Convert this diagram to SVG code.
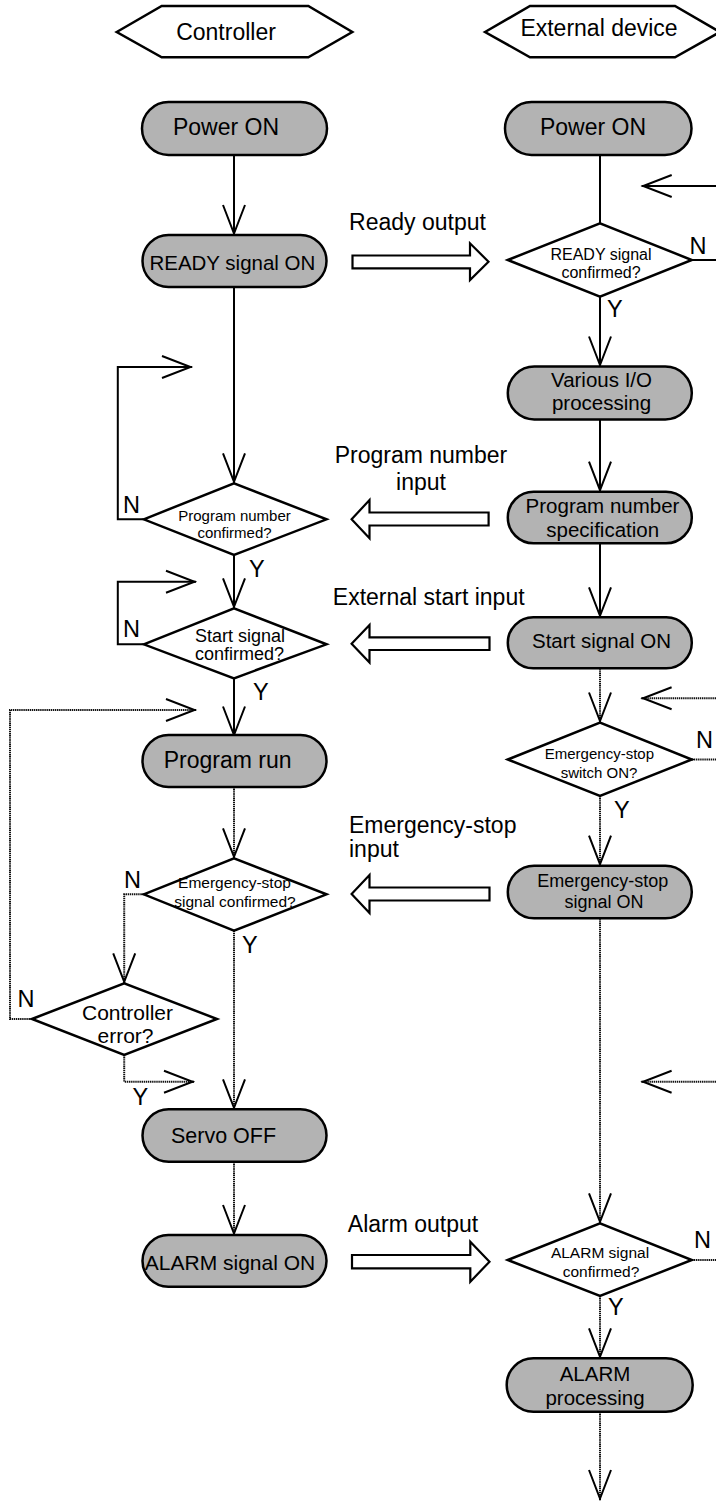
<svg xmlns="http://www.w3.org/2000/svg" width="716" height="1501" viewBox="0 0 716 1501">
<style>
text{font-family:"Liberation Sans",Arial,sans-serif;fill:#000}
.box{fill:#b3b3b3;stroke:#000;stroke-width:2.5}
.dia{fill:#fff;stroke:#000;stroke-width:2.5;stroke-linejoin:miter}
.hex{fill:#fff;stroke:#000;stroke-width:2.5}
.ln{fill:none;stroke:#000;stroke-width:2}
.dt{fill:none;stroke:#111;stroke-width:2;stroke-dasharray:1.4 0.7}
.hol{fill:#fff;stroke:#000;stroke-width:2.2;stroke-linejoin:miter}
.lbl{font-size:23px}
.yn{font-size:23.5px}
.c{text-anchor:middle}
</style>
<defs>
<marker id="ah" viewBox="-32 -13 34 26" refX="0" refY="0" markerWidth="34" markerHeight="26" markerUnits="userSpaceOnUse" orient="auto">
<path d="M-30,-11 L-1.5,0 L-30,11" fill="none" stroke="#000" stroke-width="2"/>
</marker>
</defs>
<rect width="716" height="1501" fill="#fff"/>

<!-- headers -->
<g id="hdr-controller">
<polygon class="hex" points="116.7,32 161.7,6 308.3,6 352.3,32 308.3,57.3 161.7,57.3"/>
<text class="lbl c" x="226" y="40">Controller</text>
</g>
<g id="hdr-external">
<polygon class="hex" points="485,32 530,6 675,6 720,32 675,57.3 530,57.3"/>
<text class="lbl c" x="599" y="36">External device</text>
</g>

<!-- connectors -->
<g id="connectors">
<!-- left solid -->
<path class="ln" d="M234,155 V235" marker-end="url(#ah)"/>
<path class="ln" d="M234,287 V483.3" marker-end="url(#ah)"/>
<path class="ln" d="M143.8,519.3 H117.8 V367 H192" marker-end="url(#ah)"/>
<path class="ln" d="M234,555 V608.3" marker-end="url(#ah)"/>
<path class="ln" d="M143.8,644.3 H117.8 V581.7 H196" marker-end="url(#ah)"/>
<path class="ln" d="M234,678.3 V736.5" marker-end="url(#ah)"/>
<!-- left dotted -->
<path class="dt" d="M234,787 V858.3"/>
<path class="ln" d="M234,857 V858.3" marker-end="url(#ah)"/>
<path class="dt" d="M143.8,894.3 H124.2 V983.3"/>
<path class="ln" d="M124.2,982 V983.3" marker-end="url(#ah)"/>
<path class="dt" d="M32,1019 H10 V710 H196"/>
<path class="ln" d="M194.7,710 H196" marker-end="url(#ah)"/>
<path class="dt" d="M124.2,1055 V1081.7 H194"/>
<path class="ln" d="M192.7,1081.7 H194" marker-end="url(#ah)"/>
<path class="dt" d="M234,930.7 V1109.3"/>
<path class="ln" d="M234,1108 V1109.3" marker-end="url(#ah)"/>
<path class="dt" d="M234,1162 V1235"/>
<path class="ln" d="M234,1233.7 V1235" marker-end="url(#ah)"/>
<!-- right solid -->
<path class="ln" d="M600,155 V223.3"/>
<path class="ln" d="M716,186 H641.7" marker-end="url(#ah)"/>
<path class="ln" d="M691.8,260 H716"/>
<path class="ln" d="M600,296.7 V366.5" marker-end="url(#ah)"/>
<path class="ln" d="M600,419.5 V491.7" marker-end="url(#ah)"/>
<path class="ln" d="M600,543.3 V617.3" marker-end="url(#ah)"/>
<!-- right dotted -->
<path class="dt" d="M600,668.3 V722.5"/>
<path class="ln" d="M600,721.2 V722.5" marker-end="url(#ah)"/>
<path class="dt" d="M716,698.3 H641.6"/>
<path class="ln" d="M642.9,698.3 H641.6" marker-end="url(#ah)"/>
<path class="dt" d="M691.8,759.5 H716"/>
<path class="dt" d="M600,796 V865.7"/>
<path class="ln" d="M600,864.4 V865.7" marker-end="url(#ah)"/>
<path class="dt" d="M600,918.3 V1223.3"/>
<path class="ln" d="M600,1222 V1223.3" marker-end="url(#ah)"/>
<path class="dt" d="M716,1081.7 H641.6"/>
<path class="ln" d="M642.9,1081.7 H641.6" marker-end="url(#ah)"/>
<path class="dt" d="M691.8,1260 H716"/>
<path class="dt" d="M600,1296 V1358.3"/>
<path class="ln" d="M600,1357 V1358.3" marker-end="url(#ah)"/>
<path class="dt" d="M600,1412 V1500"/>
<path class="ln" d="M600,1498.7 V1500" marker-end="url(#ah)"/>
<!-- hollow signal arrows -->
<polygon class="hol" points="352.5,255.5 470,255.5 470,243.3 488.5,261.7 470,280 470,268.3 352.5,268.3"/>
<polygon class="hol" points="488.6,512.5 369.5,512.5 369.5,500 351.6,519.3 369.5,538.3 369.5,525.5 488.6,525.5"/>
<polygon class="hol" points="489.5,637.3 369.5,637.3 369.5,625 351.6,643.7 369.5,662.5 369.5,650 489.5,650"/>
<polygon class="hol" points="489.5,887.5 369.5,887.5 369.5,875 351.6,894 369.5,913 369.5,900.5 489.5,900.5"/>
<polygon class="hol" points="352,1255 470.3,1255 470.3,1241.7 489.5,1261.7 470.3,1281.7 470.3,1268.3 352,1268.3"/>
</g>

<!-- connector labels -->
<g id="labels">
<text class="lbl c" x="417.5" y="230">Ready output</text>
<text class="lbl c" x="421" y="463.3">Program number</text>
<text class="lbl c" x="421" y="490">input</text>
<text class="lbl c" x="428.7" y="605">External start input</text>
<text class="lbl" x="349" y="833">Emergency-stop</text>
<text class="lbl" x="349" y="857">input</text>
<text class="lbl c" x="413" y="1231.7">Alarm output</text>
<text class="yn" x="689.5" y="254">N</text>
<text class="yn" x="607" y="316.7">Y</text>
<text class="yn" x="123" y="513.3">N</text>
<text class="yn" x="249" y="576.7">Y</text>
<text class="yn" x="123" y="636.7">N</text>
<text class="yn" x="253" y="700">Y</text>
<text class="yn" x="696" y="748.3">N</text>
<text class="yn" x="614" y="818.3">Y</text>
<text class="yn" x="124" y="888.3">N</text>
<text class="yn" x="242" y="953.3">Y</text>
<text class="yn" x="17.4" y="1006.7">N</text>
<text class="yn" x="132.4" y="1105">Y</text>
<text class="yn" x="694" y="1248.3">N</text>
<text class="yn" x="608" y="1315">Y</text>
</g>

<!-- controller column -->
<g id="c-power">
<rect class="box" x="142" y="102" width="185" height="53" rx="26.5"/>
<text class="c" x="226" y="135" font-size="23">Power ON</text>
</g>
<g id="c-ready">
<rect class="box" x="142.5" y="235" width="184" height="52" rx="26"/>
<text class="c" x="232.4" y="270" font-size="20.5">READY signal ON</text>
</g>
<g id="c-prog-conf">
<polygon class="dia" points="143.8,519.3 234,483.3 326.5,519.3 234,555"/>
<text class="c" x="234.5" y="521" font-size="15">Program number</text>
<text class="c" x="234.5" y="538.3" font-size="15">confirmed?</text>
</g>
<g id="c-start-conf">
<polygon class="dia" points="143.8,644.3 234,608.3 326.5,644.3 234,678.3"/>
<text class="c" x="240" y="641.7" font-size="18">Start signal</text>
<text class="c" x="239.5" y="660" font-size="18">confirmed?</text>
</g>
<g id="c-run">
<rect class="box" x="142.5" y="735" width="184" height="52" rx="26"/>
<text class="c" x="227.7" y="768.3" font-size="23">Program run</text>
</g>
<g id="c-estop-conf">
<polygon class="dia" points="143.8,894.3 234,858.3 326.5,894.3 234,930.7"/>
<text class="c" x="234.5" y="888.3" font-size="15.5">Emergency-stop</text>
<text class="c" x="235" y="906.7" font-size="15.5">signal confirmed?</text>
</g>
<g id="c-error">
<polygon class="dia" points="32,1019 124.2,983.3 217,1019 124.2,1055"/>
<text class="c" x="127.5" y="1020" font-size="21">Controller</text>
<text class="c" x="125.5" y="1043.3" font-size="21">error?</text>
</g>
<g id="c-servo">
<rect class="box" x="142.5" y="1109.3" width="184" height="52.4" rx="26.2"/>
<text class="c" x="223.5" y="1143.3" font-size="21.5">Servo OFF</text>
</g>
<g id="c-alarm">
<rect class="box" x="142.5" y="1235" width="184" height="51.7" rx="25.8"/>
<text class="c" x="230" y="1270" font-size="21">ALARM signal ON</text>
</g>

<!-- external device column -->
<g id="e-power">
<rect class="box" x="505" y="102" width="186.5" height="53" rx="26.5"/>
<text class="c" x="593" y="135" font-size="23">Power ON</text>
</g>
<g id="e-ready-conf">
<polygon class="dia" points="507.8,260 600,223.3 691.8,260 600,296.7"/>
<text class="c" x="601" y="260" font-size="16">READY signal</text>
<text class="c" x="601" y="278" font-size="16">confirmed?</text>
</g>
<g id="e-io">
<rect class="box" x="507.8" y="366.5" width="184" height="53" rx="26.5"/>
<text class="c" x="601.5" y="386.7" font-size="20.5">Various I/O</text>
<text class="c" x="601.5" y="410" font-size="20.5">processing</text>
</g>
<g id="e-prog-spec">
<rect class="box" x="507.8" y="491.7" width="184" height="51.6" rx="25.8"/>
<text class="c" x="602.5" y="513.3" font-size="20.5">Program number</text>
<text class="c" x="602.7" y="536.7" font-size="20.5">specification</text>
</g>
<g id="e-start">
<rect class="box" x="507.8" y="617.3" width="184" height="51" rx="25.5"/>
<text class="c" x="601.5" y="648.3" font-size="20.5">Start signal ON</text>
</g>
<g id="e-estop-sw">
<polygon class="dia" points="507.8,759.5 600,722.5 691.8,759.5 600,796"/>
<text class="c" x="599.4" y="759.3" font-size="15">Emergency-stop</text>
<text class="c" x="599" y="778.3" font-size="15">switch ON?</text>
</g>
<g id="e-estop-on">
<rect class="box" x="507.8" y="865.7" width="184" height="52.6" rx="26.3"/>
<text class="c" x="602.7" y="886.7" font-size="18">Emergency-stop</text>
<text class="c" x="604" y="908.3" font-size="18">signal ON</text>
</g>
<g id="e-alarm-conf">
<polygon class="dia" points="507.8,1260 600,1223.3 691.8,1260 600,1296"/>
<text class="c" x="600" y="1258.3" font-size="15.5">ALARM signal</text>
<text class="c" x="601" y="1276.7" font-size="15.5">confirmed?</text>
</g>
<g id="e-alarm-proc">
<rect class="box" x="506.7" y="1358.3" width="186" height="53.4" rx="26.7"/>
<text class="c" x="595" y="1380.7" font-size="20.5">ALARM</text>
<text class="c" x="595" y="1405" font-size="20.5">processing</text>
</g>
</svg>
